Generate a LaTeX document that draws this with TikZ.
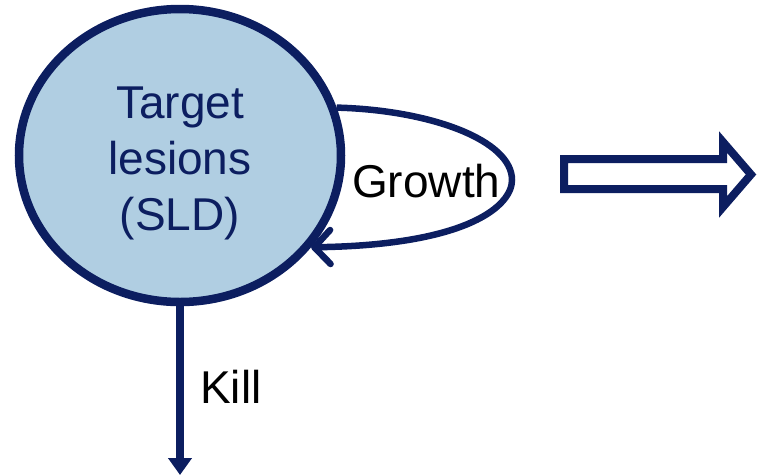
\documentclass[tikz,border=0pt]{standalone}
\usepackage{fontspec}
\setmainfont{Liberation Sans}
\usetikzlibrary{shapes.geometric,arrows.meta}

\definecolor{navy}{RGB}{12,30,96}
\definecolor{lesionfill}{RGB}{176,206,226}

\tikzset{
  lesion/.style={ellipse, draw=navy, line width=8.5pt, fill=lesionfill,
    minimum width=322pt, minimum height=293pt, inner sep=0pt},
  lesiontext/.style={align=center, text=navy,
    font=\fontsize{46pt}{56pt}\selectfont},
  caption/.style={text=black, font=\fontsize{46pt}{56pt}\selectfont, inner sep=0pt},
  flow/.style={draw=navy, line width=6.5pt},
  bigarrow/.style={draw=navy, line width=8pt, fill=white, miter limit=10}
}

\begin{document}
\begin{tikzpicture}[x=1pt, y=-1pt]
  \useasboundingbox (0,0) rectangle (761,475);

  % target lesions compartment
  \node[lesion] (sld) at (180,155.5) {};
  \node[lesiontext] (sldtext) at (180,163) {Target\\lesions\\(SLD)};

  % growth feedback loop
  \coordinate (gturn) at (512,180);
  \draw[flow, -{Straight Barb[length=16pt,width=34pt,round]}]
    (sld.17) .. controls (430,110) and (512,140) .. (gturn)
             .. controls (512,205) and (470,245) .. (sld.-35);
  \node[caption, anchor=base west] (growth) at (352,197) {Growth};

  % kill outflow
  \coordinate (killend) at (180,475);
  \draw[draw=navy, line width=7.5pt, -{Triangle[length=17pt,width=23pt]}]
    (sld.south) -- (killend);
  \node[caption, anchor=base west] (kill) at (200,403) {Kill};

  % hollow block arrow
  \draw[bigarrow]
    (564,159) -- (723,159) -- (723,142) -- (751,174.5)
    -- (723,207) -- (723,189) -- (564,189) -- cycle;
\end{tikzpicture}
\end{document}
